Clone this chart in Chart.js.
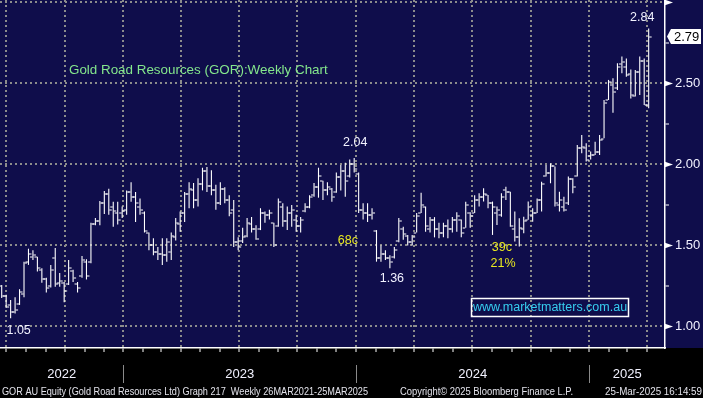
<!DOCTYPE html>
<html>
<head>
<meta charset="utf-8">
<script src="https://cdn.jsdelivr.net/npm/chart.js@4.4.1/dist/chart.umd.min.js"></script>
<style>
  html, body { margin: 0; padding: 0; background: #000; }
  canvas { display: block; }
</style>
</head>
<body>
<canvas id="gor" width="703" height="398"></canvas>
<script>
// GOR AU weekly bars (first bar = week ending 24 Jun 2022)
const firstWeek = Date.UTC(2022, 5, 24);

const opens = [
  1.25, 1.19, 1.13, 1.09, 1.14, 1.20, 1.40, 1.43, 1.43, 1.35,
  1.29, 1.25, 1.42, 1.27, 1.27, 1.26, 1.34, 1.26, 1.31, 1.40,
  1.40, 1.63, 1.65, 1.76, 1.82, 1.74, 1.70, 1.70, 1.72, 1.83,
  1.80, 1.74, 1.70, 1.58, 1.50, 1.46, 1.45, 1.44, 1.46, 1.55,
  1.63, 1.70, 1.82, 1.84, 1.78, 1.88, 1.96, 1.87, 1.84, 1.76,
  1.85, 1.78, 1.72, 1.52, 1.53, 1.56, 1.63, 1.60, 1.60, 1.70,
  1.69, 1.64, 1.62, 1.74, 1.65, 1.70, 1.66, 1.62, 1.71, 1.74,
  1.81, 1.86, 1.90, 1.84, 1.85, 1.83, 1.92, 1.96, 1.93, 2.00,
  1.94, 1.72, 1.70, 1.69, 1.59, 1.42, 1.45, 1.42, 1.43, 1.53,
  1.60, 1.56, 1.52, 1.58, 1.70, 1.74, 1.60, 1.66, 1.60, 1.58,
  1.62, 1.60, 1.66, 1.66, 1.61, 1.70, 1.70, 1.78, 1.80, 1.81,
  1.76, 1.70, 1.69, 1.84, 1.83, 1.60, 1.55, 1.60, 1.66, 1.69,
  1.70, 1.78, 1.93, 1.95, 1.99, 1.75, 1.74, 1.76, 1.91, 1.93,
  2.10, 2.10, 2.05, 2.06, 2.08, 2.16, 2.40, 2.49, 2.47, 2.62,
  2.60, 2.56, 2.42, 2.57, 2.64, 2.37
];
const highs = [
  1.256, 1.195, 1.164, 1.18, 1.23, 1.40, 1.48, 1.47, 1.43, 1.36,
  1.30, 1.38, 1.485, 1.33, 1.275, 1.41, 1.35, 1.275, 1.435, 1.415,
  1.64, 1.67, 1.775, 1.836, 1.85, 1.77, 1.77, 1.74, 1.84, 1.89,
  1.83, 1.79, 1.71, 1.58, 1.545, 1.49, 1.545, 1.545, 1.58, 1.67,
  1.71, 1.83, 1.89, 1.885, 1.915, 1.98, 1.985, 1.965, 1.875, 1.89,
  1.86, 1.81, 1.78, 1.55, 1.61, 1.67, 1.675, 1.625, 1.73, 1.71,
  1.72, 1.64, 1.79, 1.76, 1.74, 1.75, 1.69, 1.675, 1.76, 1.81,
  1.885, 1.98, 1.90, 1.89, 1.855, 1.95, 1.997, 2.01, 2.03, 2.04,
  1.95, 1.76, 1.76, 1.73, 1.595, 1.50, 1.47, 1.44, 1.49, 1.67,
  1.615, 1.565, 1.565, 1.70, 1.825, 1.74, 1.675, 1.675, 1.64, 1.64,
  1.66, 1.675, 1.705, 1.66, 1.77, 1.705, 1.81, 1.822, 1.853, 1.812,
  1.771, 1.74, 1.822, 1.863, 1.832, 1.709, 1.668, 1.678, 1.771, 1.729,
  1.79, 1.894, 1.997, 2.007, 1.987, 1.832, 1.801, 1.925, 1.915, 2.12,
  2.182, 2.131, 2.08, 2.141, 2.182, 2.398, 2.522, 2.532, 2.625, 2.666,
  2.655, 2.587, 2.583, 2.666, 2.655, 2.84
];
const lows = [
  1.176, 1.114, 1.05, 1.08, 1.133, 1.18, 1.38, 1.41, 1.34, 1.27,
  1.21, 1.24, 1.245, 1.245, 1.15, 1.256, 1.275, 1.21, 1.30, 1.29,
  1.39, 1.625, 1.625, 1.695, 1.69, 1.615, 1.63, 1.67, 1.69, 1.77,
  1.645, 1.69, 1.58, 1.47, 1.44, 1.41, 1.38, 1.40, 1.41, 1.53,
  1.585, 1.645, 1.73, 1.73, 1.74, 1.84, 1.83, 1.81, 1.72, 1.75,
  1.76, 1.68, 1.49, 1.47, 1.515, 1.55, 1.58, 1.535, 1.595, 1.64,
  1.66, 1.49, 1.615, 1.615, 1.595, 1.615, 1.585, 1.58, 1.705, 1.73,
  1.80, 1.795, 1.78, 1.81, 1.77, 1.825, 1.84, 1.80, 1.92, 1.95,
  1.70, 1.66, 1.645, 1.66, 1.40, 1.40, 1.41, 1.36, 1.42, 1.52,
  1.535, 1.50, 1.50, 1.58, 1.70, 1.585, 1.58, 1.55, 1.545, 1.55,
  1.545, 1.58, 1.585, 1.55, 1.61, 1.61, 1.70, 1.74, 1.771, 1.729,
  1.565, 1.627, 1.678, 1.781, 1.616, 1.524, 1.493, 1.575, 1.658, 1.647,
  1.70, 1.709, 1.925, 1.884, 1.74, 1.709, 1.709, 1.75, 1.822, 1.925,
  2.069, 2.018, 2.03, 2.059, 2.059, 2.162, 2.398, 2.32, 2.46, 2.563,
  2.542, 2.408, 2.419, 2.429, 2.367, 2.347
];
const closes = [
  1.19, 1.12, 1.09, 1.10, 1.21, 1.39, 1.45, 1.44, 1.36, 1.29,
  1.24, 1.35, 1.26, 1.28, 1.22, 1.36, 1.30, 1.24, 1.41, 1.31,
  1.63, 1.65, 1.76, 1.82, 1.72, 1.71, 1.66, 1.71, 1.83, 1.80,
  1.76, 1.72, 1.59, 1.50, 1.46, 1.45, 1.44, 1.52, 1.56, 1.64,
  1.70, 1.82, 1.85, 1.78, 1.88, 1.96, 1.87, 1.84, 1.76, 1.85,
  1.78, 1.70, 1.52, 1.49, 1.55, 1.64, 1.60, 1.54, 1.70, 1.69,
  1.70, 1.50, 1.77, 1.65, 1.70, 1.72, 1.62, 1.66, 1.74, 1.80,
  1.86, 1.93, 1.84, 1.86, 1.80, 1.92, 1.96, 1.90, 2.00, 1.97,
  1.72, 1.70, 1.69, 1.70, 1.42, 1.45, 1.42, 1.40, 1.47, 1.65,
  1.57, 1.52, 1.55, 1.68, 1.75, 1.62, 1.66, 1.60, 1.58, 1.62,
  1.60, 1.66, 1.68, 1.58, 1.75, 1.68, 1.78, 1.80, 1.82, 1.76,
  1.74, 1.72, 1.80, 1.83, 1.62, 1.55, 1.61, 1.65, 1.74, 1.70,
  1.78, 1.88, 1.95, 1.99, 1.76, 1.78, 1.72, 1.91, 1.86, 2.10,
  2.11, 2.03, 2.06, 2.08, 2.15, 2.38, 2.51, 2.45, 2.60, 2.63,
  2.55, 2.43, 2.57, 2.64, 2.37, 2.79
];

const priceTicks = [1.00, 1.25, 1.50, 1.75, 2.00, 2.25, 2.50, 2.75, 3.00];
const yearLabels = ['2022', '2023', '2024', '2025'];

const NAVY = '#0f0d4b';
const GRID = '#8c8c8c';
const LABEL = '#f2f2ff';
const YELLOW = '#e8e820';
const DAY = 86400000;

const xMin = -0.381;
const xMax = 148.66;
const toIdx = t => (t - firstWeek) / (7 * DAY);

const monthTicks = [];
for (let y = 2022; y <= 2025; y++) {
  for (let m = 0; m < 12; m++) {
    const v = toIdx(Date.UTC(y, m, 1));
    if (v > xMin && v < xMax) monthTicks.push({ value: v, quarter: m % 3 === 0 });
  }
}
const isMajor = v => Math.abs(v * 2 - Math.round(v * 2)) < 1e-6;

const notes = [
  { text: '2.84', i: 145, v: 2.84, dx: -6.5, dy: -11, color: LABEL },
  { text: '2.04', i: 79, v: 2.04, dx: 1, dy: -15, color: LABEL },
  { text: '1.36', i: 87, v: 1.36, dx: 2, dy: 10, color: LABEL },
  { text: '1.05', i: 2, v: 1.05, dx: 8, dy: 12, color: LABEL },
  { text: '68c', i: 77.6, v: 1.528, dx: 0, dy: 0, color: YELLOW },
  { text: '39c', i: 112.1, v: 1.485, dx: 0, dy: 0, color: YELLOW },
  { text: '21%', i: 112.35, v: 1.386, dx: 0, dy: 0, color: YELLOW }
];

function stretchText(ctx, text, x, y, w) {
  const m = ctx.measureText(text).width;
  ctx.save();
  ctx.translate(x, y);
  ctx.scale(w / m, 1);
  ctx.fillText(text, 0, 0);
  ctx.restore();
}

// no label overhang padding: plot runs edge to edge like the terminal screen
function noPad(s) {
  s.paddingTop = 0;
  s.paddingBottom = 0;
  s.paddingLeft = 0;
  s.paddingRight = 0;
}

const bloombergLook = {
  id: 'bloombergLook',
  beforeDraw(chart) {
    const { ctx, chartArea: a, width, height } = chart;
    ctx.save();
    ctx.fillStyle = '#000';
    ctx.fillRect(0, 0, width, height);
    ctx.fillStyle = NAVY;
    ctx.fillRect(0, 0, width, a.bottom);
    ctx.restore();
  },
  afterDatasetsDraw(chart) {
    const { ctx } = chart;
    const ys = chart.scales.y;
    const meta = chart.getDatasetMeta(0);
    ctx.save();
    ctx.fillStyle = '#fff';
    meta.data.forEach((bar, i) => {
      const x = bar.x;
      ctx.fillRect(x - 3, Math.round(ys.getPixelForValue(opens[i])) - 0.5, 2.5, 1);
      ctx.fillRect(x + 0.5, Math.round(ys.getPixelForValue(closes[i])) - 0.5, 2.5, 1);
    });
    ctx.restore();
  },
  afterDraw(chart) {
    const { ctx, chartArea: a } = chart;
    const xs = chart.scales.x;
    const ys = chart.scales.y;
    ctx.save();

    // major tick flags on the price axis
    ctx.fillStyle = '#fff';
    priceTicks.filter(isMajor).forEach(v => {
      const y = ys.getPixelForValue(v);
      ctx.beginPath();
      ctx.moveTo(a.right, y - 2.8);
      ctx.lineTo(a.right + 8, y);
      ctx.lineTo(a.right, y + 2.8);
      ctx.closePath();
      ctx.fill();
    });

    // last price tag
    const last = closes[closes.length - 1];
    const ly = ys.getPixelForValue(last);
    ctx.beginPath();
    ctx.moveTo(a.right + 2, ly);
    ctx.lineTo(a.right + 6, ly - 7.5);
    ctx.lineTo(701, ly - 7.5);
    ctx.lineTo(701, ly + 7.5);
    ctx.lineTo(a.right + 6, ly + 7.5);
    ctx.closePath();
    ctx.fill();
    ctx.fillStyle = '#000';
    ctx.font = '13px "Liberation Sans"';
    ctx.textBaseline = 'middle';
    ctx.textAlign = 'left';
    ctx.fillText(last.toFixed(2), a.right + 9, ly + 0.5);

    // years and separators under the date axis
    ctx.strokeStyle = '#8a8a8a';
    ctx.lineWidth = 1;
    ctx.fillStyle = LABEL;
    ctx.textAlign = 'center';
    yearLabels.forEach(label => {
      const yr = +label;
      const s = xs.getPixelForValue(toIdx(Date.UTC(yr, 0, 1)));
      const e = xs.getPixelForValue(toIdx(Date.UTC(yr + 1, 0, 1)));
      const l = Math.max(a.left, s), r = Math.min(a.right, e);
      ctx.fillText(label, (l + r) / 2, 374);
      if (s > a.left) {
        ctx.beginPath();
        ctx.moveTo(Math.round(s) + 0.5, 365);
        ctx.lineTo(Math.round(s) + 0.5, 383);
        ctx.stroke();
      }
    });

    // chart notes
    ctx.font = '12.5px "Liberation Sans"';
    notes.forEach(n => {
      ctx.fillStyle = n.color;
      ctx.fillText(n.text, xs.getPixelForValue(n.i) + n.dx, ys.getPixelForValue(n.v) + n.dy);
    });

    // title
    ctx.textAlign = 'left';
    ctx.font = '13.4px "Liberation Sans"';
    ctx.fillStyle = '#84e68c';
    ctx.fillText('Gold Road Resources (GOR):Weekly Chart', 69, 70);

    // web address box
    ctx.strokeStyle = '#fff';
    ctx.lineWidth = 1.5;
    ctx.strokeRect(471.5, 298.5, 157, 18);
    ctx.fillStyle = '#36cdee';
    ctx.font = '12.5px "Liberation Sans"';
    ctx.textAlign = 'center';
    ctx.fillText('www.marketmatters.com.au', 550, 308);

    // footer
    ctx.fillStyle = '#e2e2ea';
    ctx.font = '10.5px "Liberation Sans"';
    ctx.textAlign = 'left';
    ctx.textBaseline = 'alphabetic';
    stretchText(ctx, 'GOR AU Equity (Gold Road Resources Ltd) Graph 217  Weekly 26MAR2021-25MAR2025', 2, 395, 366);
    stretchText(ctx, 'Copyright\u00A9 2025 Bloomberg Finance L.P.', 400, 395, 173);
    stretchText(ctx, '25-Mar-2025 16:14:59', 605, 395, 97);

    ctx.restore();
  }
};

Chart.defaults.font.family = '"Liberation Sans", Arial, sans-serif';

new Chart(document.getElementById('gor'), {
  type: 'bar',
  data: {
    datasets: [{
      label: 'GOR',
      data: lows.map((l, i) => ({ x: i, y: [l, highs[i]] })),
      backgroundColor: '#ffffff',
      borderWidth: 0,
      inflateAmount: 0,
      barThickness: 1.1
    }]
  },
  options: {
    responsive: false,
    animation: false,
    events: [],
    layout: { padding: 0, autoPadding: false },
    plugins: { legend: { display: false }, tooltip: { enabled: false } },
    scales: {
      x: {
        type: 'linear',
        min: xMin,
        max: xMax,
        offset: false,
        afterBuildTicks: s => { s.ticks = monthTicks.map(t => ({ value: t.value })); },
        afterFit: s => { s.height = 50; noPad(s); },
        grid: {
          offset: false,
          color: c => (monthTicks[c.index] && monthTicks[c.index].quarter) ? GRID : 'transparent',
          lineWidth: 2,
          tickColor: '#ffffff',
          tickWidth: 1,
          tickLength: 4
        },
        border: { display: true, color: '#ffffff', width: 1.5, dash: [2, 3] },
        ticks: { display: false }
      },
      y: {
        position: 'right',
        min: 0.867,
        max: 3.0154,
        afterBuildTicks: s => { s.ticks = priceTicks.map(v => ({ value: v })); },
        afterFit: s => { s.width = 38; noPad(s); },
        grid: {
          color: c => isMajor(c.tick.value) ? GRID : 'transparent',
          lineWidth: 2,
          tickColor: '#ffffff',
          tickWidth: 1,
          tickLength: 4
        },
        border: { display: true, color: '#ffffff', width: 1.5, dash: [2, 3] },
        ticks: {
          color: LABEL,
          font: { size: 13 },
          padding: 6,
          autoSkip: false,
          callback: v => (isMajor(v) && v < 2.9) ? v.toFixed(2) : ''
        }
      }
    }
  },
  plugins: [bloombergLook]
});
</script>
</body>
</html>
